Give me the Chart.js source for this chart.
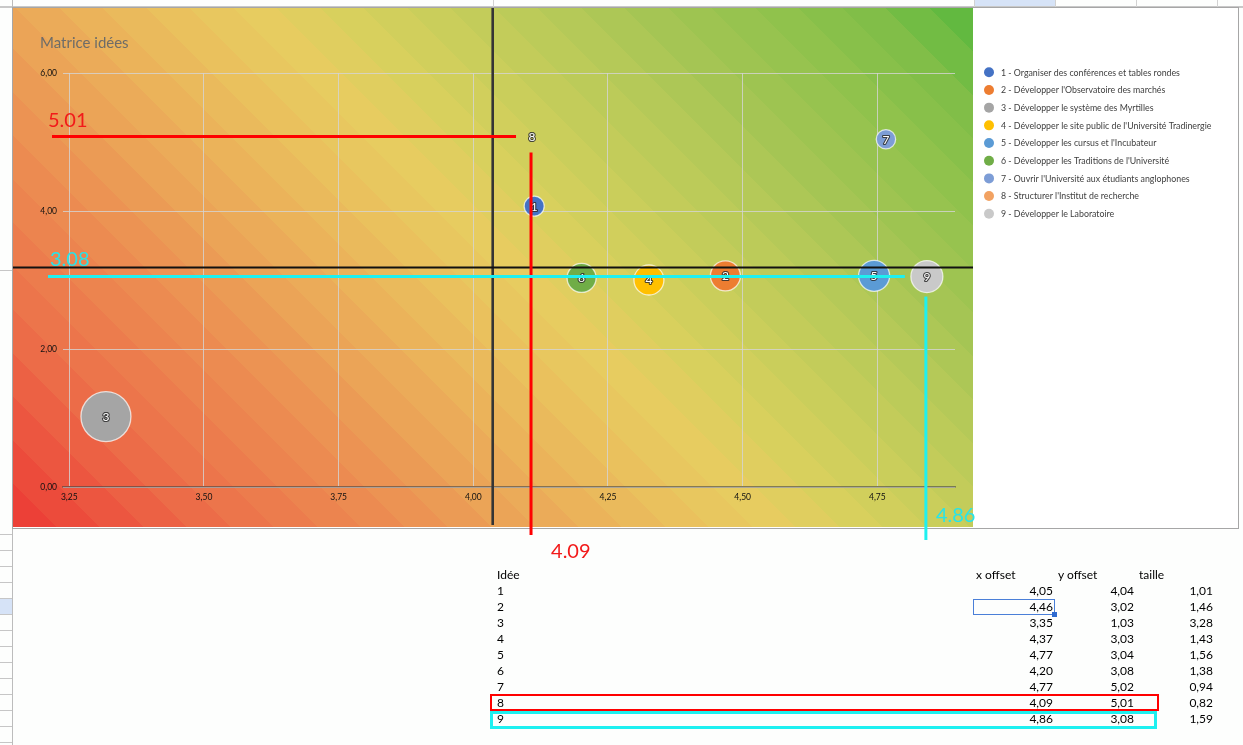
<!DOCTYPE html>
<html><head><meta charset="utf-8">
<script src="https://cdn.jsdelivr.net/npm/chart.js@4.4.1/dist/chart.umd.min.js"></script>
<style>
html,body{margin:0;padding:0;background:#fdfefd;width:1243px;height:745px;overflow:hidden;font-family:Lato,"Open Sans",sans-serif;}
.abs{position:absolute;}
#cv{position:absolute;left:0;top:0;z-index:2;}
.cell{position:absolute;font:12px Lato,sans-serif;color:#000;line-height:16px;height:16px;white-space:nowrap;z-index:3;}
.r{text-align:right;}
</style></head>
<body>
<div id="chrome"></div>
<canvas id="cv" width="1243" height="745"></canvas>
<div id="table"></div>
<script>
// ---------- data ----------
const ideaIds = ['1','2','3','4','5','6','7','8','9'];
const ideaNames = [
  "1 - Organiser des conférences et tables rondes",
  "2 - Développer l'Observatoire des marchés",
  "3 - Développer le système des Myrtilles",
  "4 - Développer le site public de l'Université Tradinergie",
  "5 - Développer les cursus et l'Incubateur",
  "6 - Développer les Traditions de l'Université",
  "7 - Ouvrir l'Université aux étudiants anglophones",
  "8 - Structurer l'Institut de recherche",
  "9 - Développer le Laboratoire"
];
// bubble positions / sizes as plotted in the picture
const bubbleX = [4.113, 4.468, 3.318, 4.326, 4.744, 4.201, 4.766, 4.109, 4.842];
const bubbleY = [4.07, 3.06, 1.02, 3.00, 3.06, 3.03, 5.04, 5.08, 3.05];
const bubbleSize = [1.00, 1.50, 2.50, 1.50, 1.55, 1.45, 0.97, 0.82, 1.60];
const hiddenBubbles = ['8'];
const xTicks = [3.25, 3.50, 3.75, 4.00, 4.25, 4.50, 4.75];
const yTicks = [0, 2, 4, 6];
const quadrantX = [4.036];
const quadrantY = [3.18];
const chartTitle = 'Matrice idées';
// highlighted ideas (red = 8, cyan = 9)
const highlightIdeas = ['8', '9'];
// worksheet table
const tableHeaders = ['Idée', 'x offset', 'y offset', 'taille'];
const tableX = [4.05, 4.46, 3.35, 4.37, 4.77, 4.20, 4.77, 4.09, 4.86];
const tableY = [4.04, 3.02, 1.03, 3.03, 3.04, 3.08, 5.02, 5.01, 3.08];
const tableTaille = [1.01, 1.46, 3.28, 1.43, 1.56, 1.38, 0.94, 0.82, 1.59];

// ---------- styles ----------
const ideaColors = ['#4472C4','#ED7D31','#A5A5A5','#FFC000','#5B9BD5','#70AD47','#7D9DD6','#F2A262','#C9C9C9'];
const BUBBLE_PX = 10;
const BG = {left:13, top:8, right:973, bottom:527};
const FRAME = {left:12.5, top:7.5, right:1238.5, bottom:528.5};
const GRAD_STOPS = [[0,[236,59,53]],[0.14,[236,111,73]],[0.25,[236,139,81]],[0.35,[235,167,88]],[0.45,[234,192,93]],
  [0.52,[231,205,96]],[0.58,[214,208,93]],[0.65,[198,205,90]],[0.72,[181,201,88]],[0.78,[165,197,84]],
  [0.86,[146,194,77]],[0.93,[128,190,72]],[1,[90,184,62]]];
const comma = (v, d) => v.toFixed(d).replace('.', ',');

// ---------- spreadsheet chrome ----------
(function(){
  const c = document.getElementById('chrome');
  const add = (css) => { const d = document.createElement('div'); d.className='abs'; d.style.cssText = css; c.appendChild(d); };
  add('left:974px;top:0;width:81px;height:6px;background:#d6e3f7;');
  add('left:0;top:6px;width:1243px;height:2px;background:#c8c8c8;');
  [12,493,974,1055,1136,1217].forEach(x => add('left:'+x+'px;top:0;width:1px;height:7px;background:#d2d2d2;'));
  add('left:0;top:599px;width:12px;height:15px;background:#d6e3f7;');
  add('left:12px;top:0;width:1px;height:745px;background:#bcbcbc;');
  [270].concat(Array.from({length:14},(_, k)=>534+16*k)).forEach(y => add('left:0;top:'+y+'px;width:12px;height:1px;background:#c6c6c6;'));
})();

// ---------- table ----------
(function(){
  const t = document.getElementById('table');
  const cell = (txt, css, right) => { const d = document.createElement('div'); d.className='cell'+(right?' r':''); d.style.cssText = css; d.textContent = txt; t.appendChild(d); };
  const rowTop = i => 567 + 16*i;
  cell(tableHeaders[0], 'left:497px;top:'+rowTop(0)+'px;');
  cell(tableHeaders[1], 'left:976px;top:'+rowTop(0)+'px;');
  cell(tableHeaders[2], 'left:1058px;top:'+rowTop(0)+'px;');
  cell(tableHeaders[3], 'left:1139px;top:'+rowTop(0)+'px;');
  ideaIds.forEach((id, i) => {
    const top = rowTop(i+1);
    cell(id, 'left:497px;top:'+top+'px;');
    cell(comma(tableX[i],2), 'left:953px;width:100px;top:'+top+'px;', true);
    cell(comma(tableY[i],2), 'left:1034px;width:100px;top:'+top+'px;', true);
    cell(comma(tableTaille[i],2), 'left:1113px;width:100px;top:'+top+'px;', true);
  });
  const box = (css) => { const d = document.createElement('div'); d.className='abs'; d.style.cssText = css+'z-index:3;box-sizing:border-box;'; t.appendChild(d); };
  box('left:973px;top:599px;width:82px;height:16px;border:1px solid #4a7fd8;');
  box('left:1052px;top:612px;width:5px;height:5px;background:#2f6bd0;');
  const i8 = ideaIds.indexOf(highlightIdeas[0]), i9 = ideaIds.indexOf(highlightIdeas[1]);
  box('left:490px;top:'+(rowTop(i8+1)-1)+'px;width:669px;height:17px;border:2px solid #ff0000;');
  box('left:490px;top:'+rowTop(i9+1)+'px;width:667px;height:18px;border:3px solid #1ef0f0;');
})();

// ---------- helpers ----------
function gradColor(t) {
  for (let k = 1; k < GRAD_STOPS.length; k++) {
    const a = GRAD_STOPS[k-1], b = GRAD_STOPS[k];
    if (t <= b[0]) {
      const f = (t - a[0]) / (b[0] - a[0]);
      const c = a[1].map((v, j) => Math.round(v + (b[1][j] - v) * f));
      return 'rgb(' + c.join(',') + ')';
    }
  }
  return 'rgb(' + GRAD_STOPS[GRAD_STOPS.length-1][1].join(',') + ')';
}

// ---------- plugins ----------
const bgPlugin = {
  id: 'bg',
  beforeDraw(chart) {
    const ctx = chart.ctx;
    ctx.save();
    ctx.fillStyle = '#ffffff';
    ctx.fillRect(FRAME.left, FRAME.top, FRAME.right-FRAME.left, FRAME.bottom-FRAME.top);
    const w = BG.right-BG.left, h = BG.bottom-BG.top;
    const cx = BG.left + w/2, cy = BG.top + h/2;
    const half = (w + h) * Math.SQRT1_2 / 2, d = half * Math.SQRT1_2;
    const g = ctx.createLinearGradient(cx - d, cy + d, cx + d, cy - d);
    const bands = 34;
    for (let b = 0; b < bands; b++) {
      const col = gradColor((b + 0.5) / bands);
      g.addColorStop(b / bands, col);
      g.addColorStop((b + 1) / bands - 0.0001, col);
    }
    ctx.fillStyle = g;
    ctx.fillRect(BG.left, BG.top, w, h);
    ctx.strokeStyle = '#a6a6a6'; ctx.lineWidth = 1;
    ctx.strokeRect(FRAME.left, FRAME.top, FRAME.right-FRAME.left, FRAME.bottom-FRAME.top);
    ctx.restore();
  },
  afterDatasetsDraw(chart) {
    const ctx = chart.ctx, xs = chart.scales.x, ys = chart.scales.y;
    ctx.save();
    // data labels
    ctx.font = '12px Lato, sans-serif';
    ctx.textAlign = 'center'; ctx.textBaseline = 'middle';
    chart.data.datasets.forEach((ds, i) => {
      const el = chart.getDatasetMeta(i).data[0];
      ctx.lineJoin = 'round';
      ctx.strokeStyle = 'rgba(45,45,45,0.85)'; ctx.lineWidth = 2.2;
      ctx.strokeText(ideaIds[i], el.x, el.y + 0.5);
      ctx.fillStyle = '#ffffff';
      ctx.fillText(ideaIds[i], el.x, el.y + 0.5);
    });
    // quadrant lines
    quadrantX.forEach(v => {
      const px = xs.getPixelForValue(v);
      ctx.strokeStyle = '#353535'; ctx.lineWidth = 2.6;
      ctx.beginPath(); ctx.moveTo(px, BG.top); ctx.lineTo(px, BG.bottom - 2); ctx.stroke();
    });
    quadrantY.forEach(v => {
      const py = ys.getPixelForValue(v);
      ctx.strokeStyle = '#111111'; ctx.lineWidth = 2;
      ctx.beginPath(); ctx.moveTo(BG.left, py); ctx.lineTo(BG.right, py); ctx.stroke();
    });
    // hand annotations for highlighted ideas
    const notes = [
      {id: highlightIdeas[0], color:'#ff0000', text:'#f21a1a', hStart:52, hGap:16, vGap:16, vEnd:535, hLabelDx:-4, hLabelDy:-9, vLabelDx:19, vLabelDy:23},
      {id: highlightIdeas[1], color:'#1ef0f0', text:'#27e4ea', hStart:48, hGap:22, vGap:20, vEnd:540, hLabelDx:2, hLabelDy:-11, vLabelDx:9, vLabelDy:-18}
    ];
    notes.forEach(n => {
      const i = ideaIds.indexOf(n.id);
      const px = xs.getPixelForValue(bubbleX[i]), py = ys.getPixelForValue(bubbleY[i]);
      ctx.strokeStyle = n.color; ctx.lineWidth = 3; ctx.lineCap = 'butt';
      ctx.beginPath(); ctx.moveTo(n.hStart, py); ctx.lineTo(px - n.hGap, py); ctx.stroke();
      ctx.beginPath(); ctx.moveTo(px - 1, py + n.vGap); ctx.lineTo(px - 1, n.vEnd); ctx.stroke();
      ctx.fillStyle = n.text; ctx.font = '20px Lato, sans-serif';
      ctx.textAlign = 'left'; ctx.textBaseline = 'alphabetic';
      ctx.fillText(tableY[i].toFixed(2), n.hStart + n.hLabelDx, py + n.hLabelDy);
      ctx.fillText(tableX[i].toFixed(2), px + n.vLabelDx, n.vEnd + n.vLabelDy);
    });
    ctx.restore();
  },
  afterDraw(chart) {
    const ctx = chart.ctx;
    ctx.save();
    ctx.fillStyle = '#6e6c68'; ctx.font = '15px Lato, sans-serif';
    ctx.textAlign = 'left'; ctx.textBaseline = 'middle';
    ctx.fillText(chartTitle, 40, 43);
    // legend
    ctx.font = '8.8px Lato, sans-serif'; ctx.textBaseline = 'middle';
    ideaNames.forEach((name, i) => {
      const y = 72.3 + i * 17.68;
      ctx.fillStyle = ideaColors[i];
      ctx.beginPath(); ctx.arc(989, y, 5, 0, Math.PI*2); ctx.fill();
      ctx.fillStyle = '#404040';
      ctx.fillText(name, 1001, y + 0.5);
    });
    ctx.restore();
  }
};

const tickFont = {family: 'Lato, sans-serif', size: 8.5};
new Chart(document.getElementById('cv'), {
  type: 'bubble',
  data: {
    datasets: ideaIds.map((id, i) => ({
      label: ideaNames[i],
      data: [{x: bubbleX[i], y: bubbleY[i], r: bubbleSize[i] * BUBBLE_PX}],
      backgroundColor: hiddenBubbles.includes(id) ? 'rgba(0,0,0,0)' : ideaColors[i],
      borderColor: hiddenBubbles.includes(id) ? 'rgba(0,0,0,0)' : 'rgba(255,255,255,0.7)',
      borderWidth: 1.3
    }))
  },
  options: {
    responsive: false, animation: false, devicePixelRatio: 1,
    layout: {padding: {left: 13, top: 73, right: 288, bottom: 238}},
    plugins: {legend: {display: false}, tooltip: {enabled: false}, title: {display: false}},
    scales: {
      x: {
        type: 'linear', min: 3.2383, max: 4.8942,
        afterBuildTicks: s => { s.ticks = xTicks.map(v => ({value: v})); },
        afterFit: s => { s.height = 20; },
        grid: {color: 'rgba(212,212,212,0.8)', lineWidth: 1, drawTicks: false},
        border: {display: true, color: 'rgba(70,70,70,0.6)', width: 1.6},
        ticks: {padding: 5, font: tickFont, color: '#111', maxRotation: 0, autoSkip: false, callback: v => comma(v, 2)}
      },
      y: {
        type: 'linear', min: 0, max: 6,
        afterBuildTicks: s => { s.ticks = yTicks.map(v => ({value: v})); },
        afterFit: s => { s.width = 50; },
        grid: {color: 'rgba(212,212,212,0.8)', lineWidth: 1, drawTicks: false},
        border: {display: false},
        ticks: {padding: 6, font: tickFont, color: '#111', callback: v => comma(v, 2)}
      }
    }
  },
  plugins: [bgPlugin]
});
</script>
</body></html>
